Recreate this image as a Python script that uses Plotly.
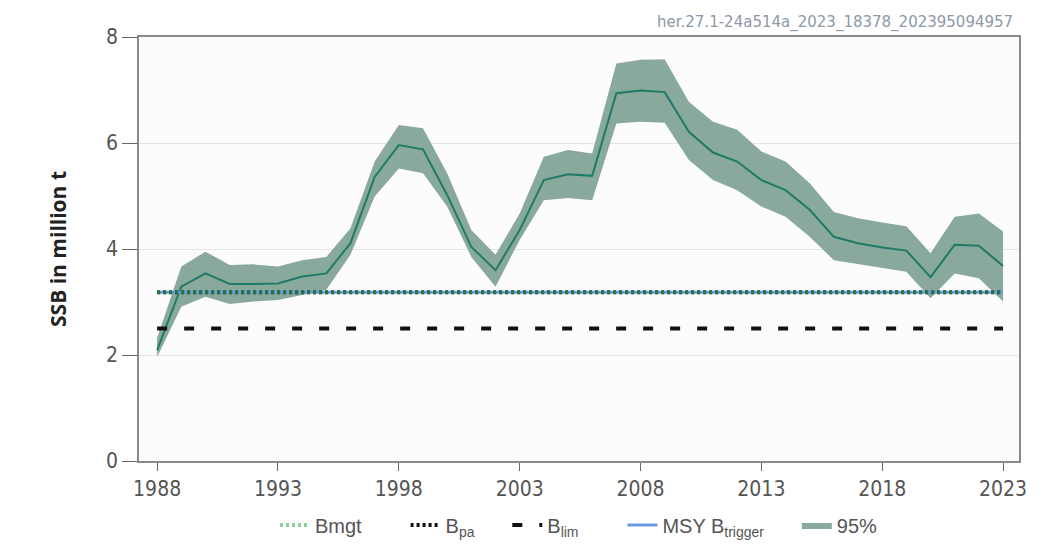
import plotly.graph_objects as go

years = list(range(1988, 2024))
ssb = [2.09, 3.29, 3.54, 3.34, 3.34, 3.35, 3.48, 3.54, 4.11, 5.36, 5.96, 5.88,
       5.02, 4.04, 3.60, 4.36, 5.30, 5.41, 5.38, 6.94, 6.99, 6.96, 6.21, 5.82,
       5.65, 5.30, 5.11, 4.74, 4.23, 4.11, 4.03, 3.97, 3.47, 4.08, 4.06, 3.68]
ssb_high = [2.32, 3.67, 3.95, 3.70, 3.71, 3.67, 3.79, 3.85, 4.39, 5.65, 6.34, 6.28,
            5.43, 4.36, 3.89, 4.67, 5.74, 5.87, 5.80, 7.50, 7.57, 7.58, 6.78, 6.40,
            6.25, 5.84, 5.65, 5.24, 4.70, 4.58, 4.50, 4.43, 3.92, 4.61, 4.67, 4.33]
ssb_low = [1.96, 2.91, 3.10, 2.96, 3.01, 3.04, 3.13, 3.23, 3.89, 4.99, 5.52, 5.43,
           4.80, 3.85, 3.29, 4.17, 4.92, 4.96, 4.92, 6.37, 6.40, 6.38, 5.68, 5.30,
           5.11, 4.80, 4.61, 4.23, 3.79, 3.72, 3.64, 3.57, 3.07, 3.54, 3.45, 3.01]

bmgt = 3.184
bpa = 3.184
blim = 2.5
msy_btrigger = 3.184

x_ticks = [1988, 1993, 1998, 2003, 2008, 2013, 2018, 2023]
y_ticks = [0, 2, 4, 6, 8]
stamp = "her.27.1-24a514a_2023_18378_202395094957"

band_col = "#89a99d"
line_col = "#1f7a68"

fig = go.Figure()

fig.add_trace(go.Scatter(x=years, y=ssb_low, mode="lines", line=dict(width=0, color=band_col),
                         showlegend=False, hoverinfo="skip"))
fig.add_trace(go.Scatter(x=years, y=ssb_high, mode="lines", line=dict(width=0, color=band_col),
                         fill="tonexty", fillcolor=band_col, name="95%", legendrank=5))
fig.add_trace(go.Scatter(x=years, y=ssb, mode="lines", line=dict(width=2, color=line_col),
                         showlegend=False))

x_ends = [years[0], years[-1]]
fig.add_trace(go.Scatter(x=x_ends, y=[msy_btrigger] * 2, mode="lines",
                         line=dict(width=3, color="#6a9be0"),
                         name="MSY B<sub>trigger</sub>" + "&nbsp;" * 5, legendrank=4))
fig.add_trace(go.Scatter(x=x_ends, y=[bpa] * 2, mode="lines",
                         line=dict(width=4, color="#111111", dash="3px,3px"),
                         name="B<sub>pa</sub>" + "&nbsp;" * 5, legendrank=2))
fig.add_trace(go.Scatter(x=x_ends, y=[bmgt] * 2, mode="lines",
                         line=dict(width=4, color="rgba(60,180,100,0.6)", dash="3px,3px"),
                         name="Bmgt" + "&nbsp;" * 7, legendrank=1))
fig.add_trace(go.Scatter(x=x_ends, y=[blim] * 2, mode="lines",
                         line=dict(width=4, color="#111111", dash="10px,17px"),
                         name="B<sub>lim</sub>" + "&nbsp;" * 7, legendrank=3))

fig.add_annotation(text=stamp, xref="paper", yref="paper", x=0.9955, y=1.0,
                   xanchor="right", yanchor="bottom", yshift=3, showarrow=False,
                   font=dict(family="DejaVu Sans", size=15, color="#8d99a6"))

fig.update_layout(
    width=1037, height=540,
    margin=dict(l=131, r=26, t=29, b=87),
    paper_bgcolor="white",
    plot_bgcolor="#fcfcfc",
    font=dict(family="DejaVu Sans", color="#555555"),
    legend=dict(orientation="h", xref="paper", x=0.5, xanchor="center",
                yref="container", y=0.0426, yanchor="middle",
                font=dict(family="Liberation Sans", size=20, color="#555555"),
                itemwidth=30, traceorder="normal"),
    xaxis=dict(range=[1987.25, 2023.66], tickvals=x_ticks, ticks="outside", ticklen=8,
               tickcolor="#666666", showgrid=False, showline=True, linecolor="#8a8a8a",
               linewidth=2, mirror=True, zeroline=False, automargin=False,
               tickfont=dict(family="DejaVu Sans Condensed, DejaVu Sans", size=21, color="#555555")),
    yaxis=dict(range=[0, 8], tickvals=y_ticks, ticks="outside", ticklen=15,
               tickcolor="#666666", showgrid=True, gridcolor="#e4e4e4", gridwidth=1,
               showline=True, linecolor="#8a8a8a", linewidth=1.5, mirror=True,
               zeroline=False, automargin=False,
               title=dict(text="SSB in million t", standoff=34,
                          font=dict(family="Open Sans", size=21, color="#222222", weight="bold")),
               tickfont=dict(family="DejaVu Sans Condensed, DejaVu Sans", size=21, color="#555555")),
)

fig.write_html("out.html")
